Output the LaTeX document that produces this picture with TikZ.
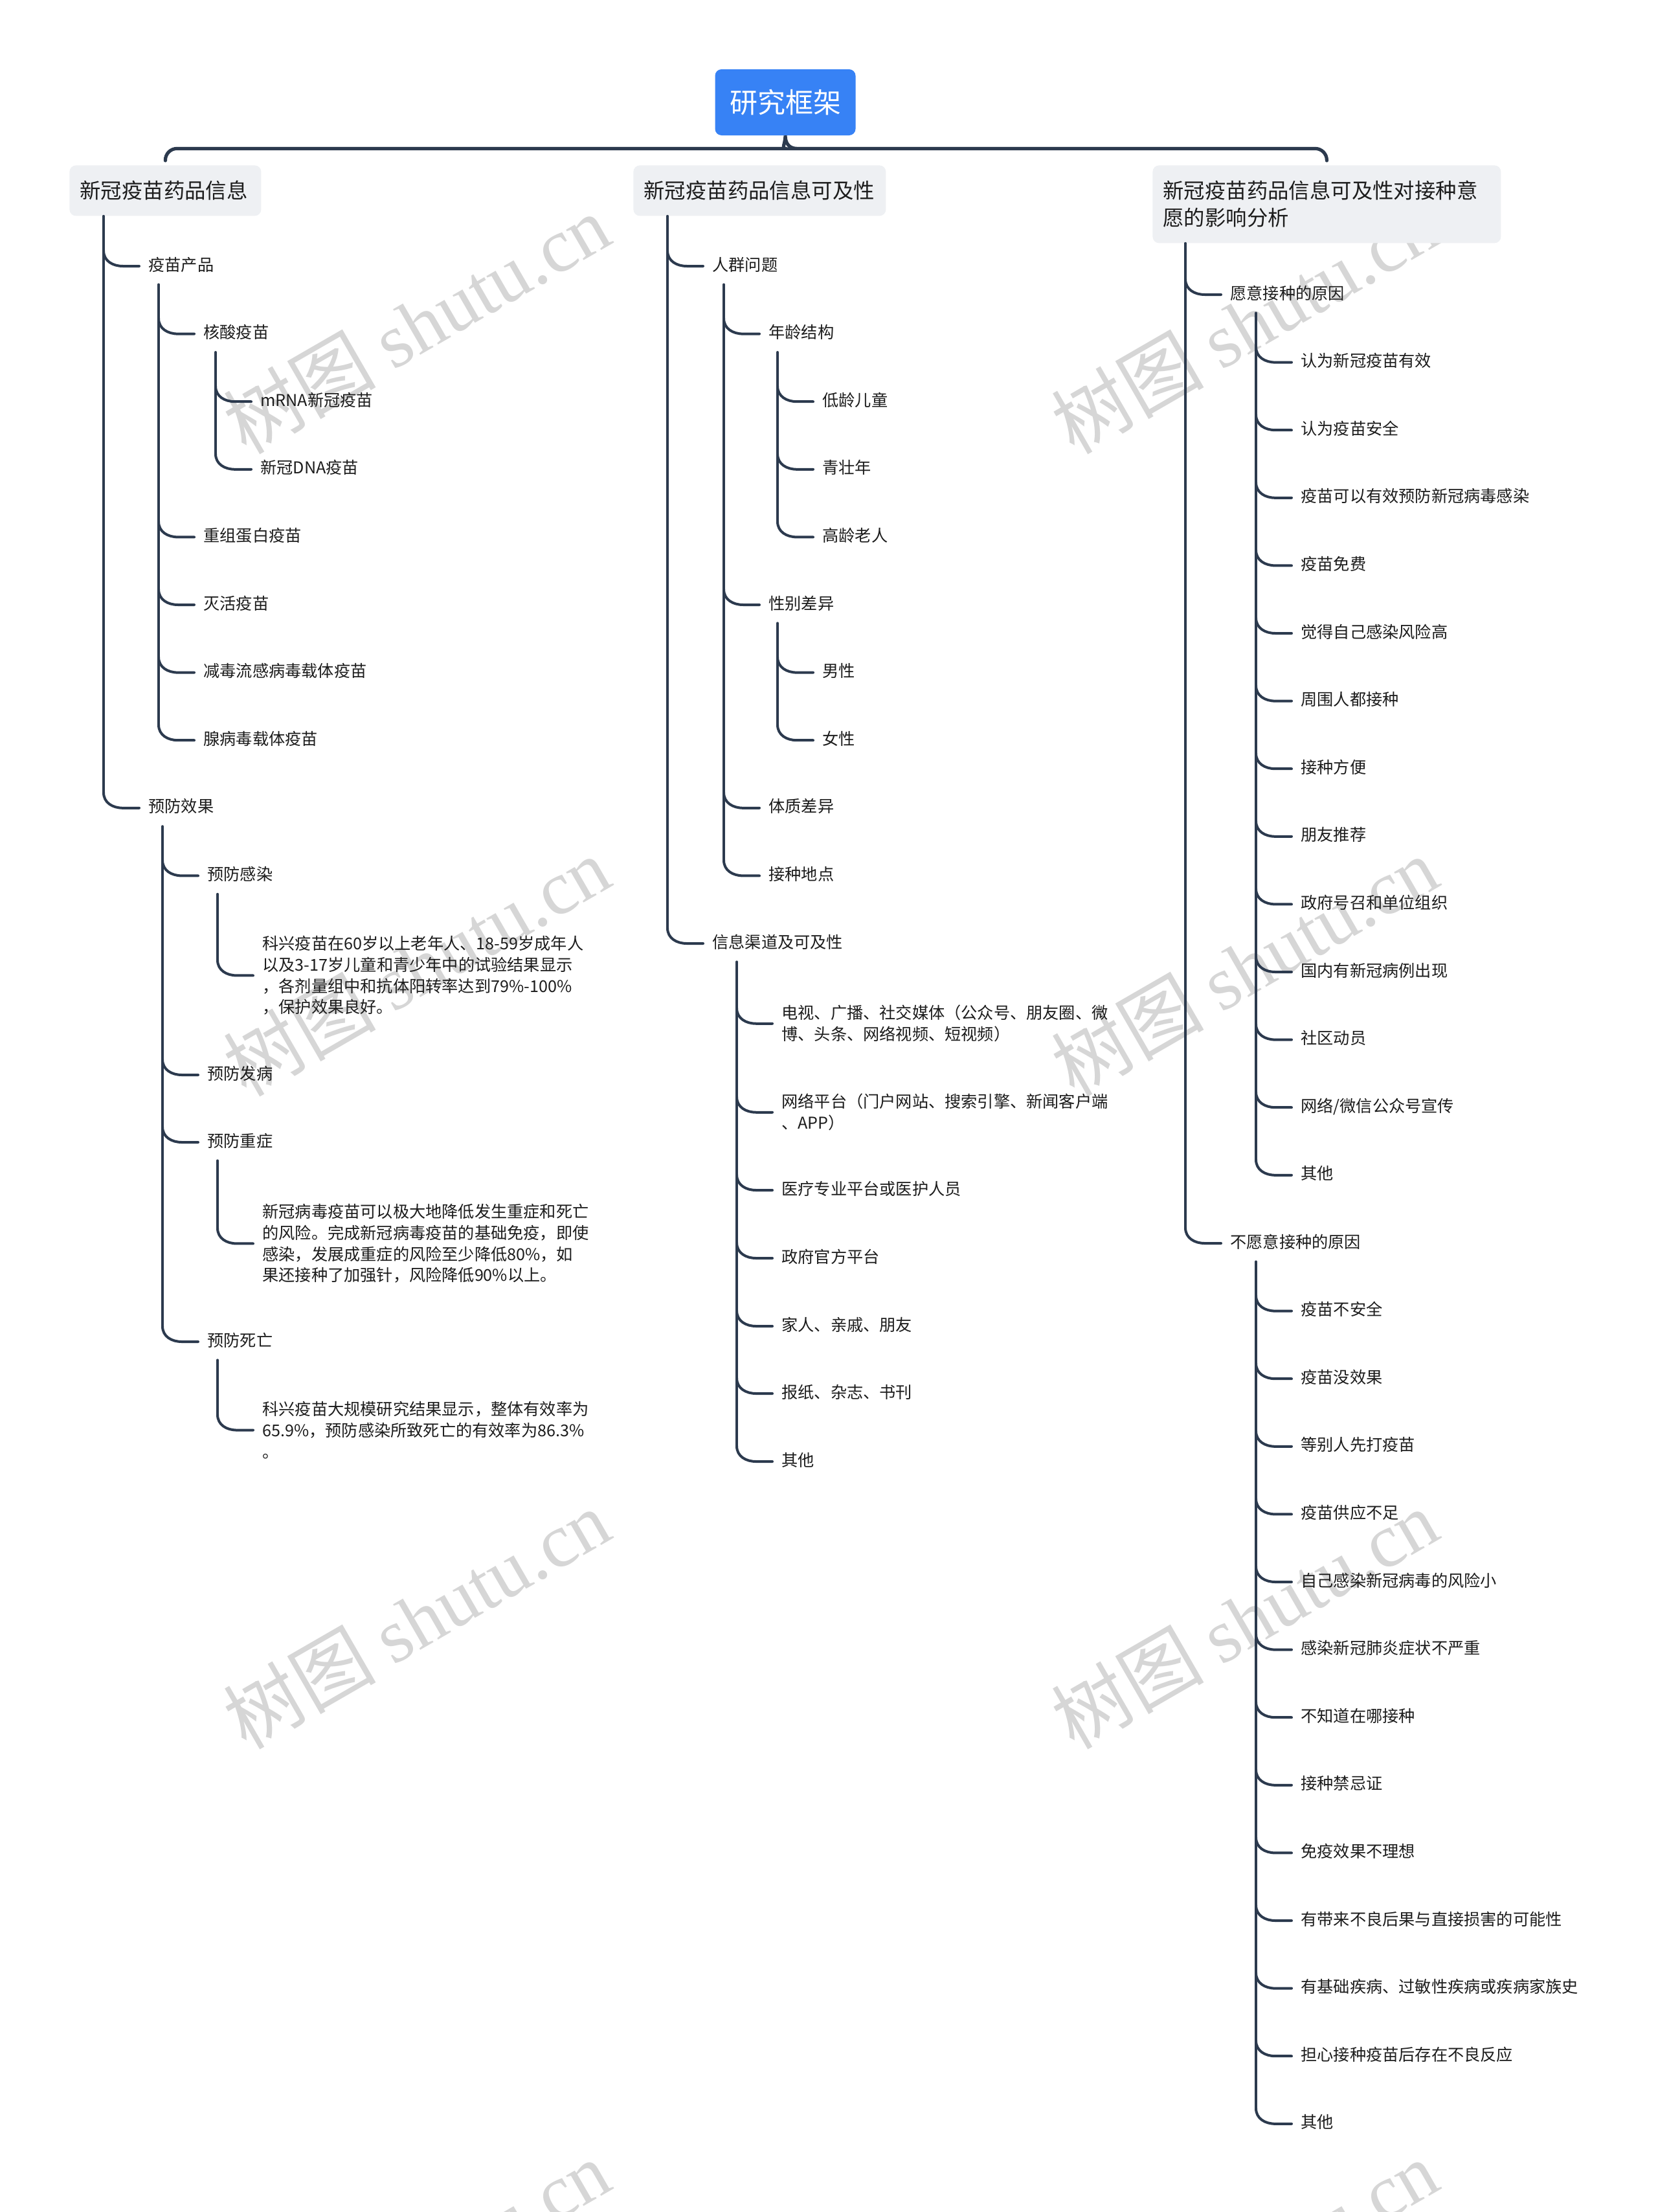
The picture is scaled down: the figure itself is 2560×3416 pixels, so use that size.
\documentclass[tikz,border=0pt]{standalone}
\usepackage{fontspec}
\setmainfont{Noto Sans CJK SC}
\newfontfamily\wmlatin{Liberation Serif}
\usetikzlibrary{calc}
\definecolor{linec}{RGB}{44,58,78}
\definecolor{rootc}{RGB}{55,130,245}
\definecolor{hdrc}{RGB}{238,240,243}
\definecolor{txtc}{RGB}{28,28,28}
\definecolor{wmc}{RGB}{214,214,214}
\newcommand\kid[1]{\draw[tl] ($(#1.west)+(-69,-24)$) .. controls ($(#1.west)+(-69,-8)$) and ($(#1.west)+(-55,0)$) .. ($(#1.west)+(-39,0)$) -- ($(#1.west)+(-14,0)$);}
\newcommand\trunk[2]{\coordinate (tmpp) at ([yshift=-9pt]#1.south); \draw[tl] ($(#2.west)+(-69,-24)$) coordinate (tmpc) -- (tmpc |- tmpp);}
\newcommand\htrunk[2]{\coordinate (tmpp) at (#1.south west); \draw[tl] ($(#2.west)+(-69,-24)$) coordinate (tmpc) -- (tmpc |- tmpp);}
\begin{document}
\begin{tikzpicture}[x=0.5pt,y=-0.5pt,
  tl/.style={draw=linec, line width=2pt, line cap=round},
  br/.style={draw=linec, line width=2.6pt, line cap=round},
  leaf/.style={anchor=west, inner sep=0pt, yshift=-2pt, text=txtc, font=\fontsize{12.6}{16.35}\selectfont, text height=0.85em, text depth=0.15em},
  blk/.style={anchor=north west, inner sep=0pt, yshift=-2pt, text=txtc, font=\fontsize{12.6}{16.35}\selectfont, align=left},
  hdr/.style={anchor=north west, fill=hdrc, rounded corners=5pt, inner xsep=8pt, inner ysep=0pt, text=txtc, font=\fontsize{16.2}{21}\selectfont, align=left, minimum height=39pt},
  rootbox/.style={fill=rootc, rounded corners=5pt, text=white, font=\fontsize{21.5}{26}\selectfont, minimum width=108.5pt, minimum height=51pt, inner sep=0pt},
  wm/.style={text=wmc, font=\fontsize{59}{66}\selectfont, rotate=30, inner sep=0pt}]
\useasboundingbox (0,0) rectangle (2560,3416);
\fill[white] (0,0) rectangle (2560,3416);
% watermarks
\foreach \wx/\wy [count=\i] in {643/500, 1922/500, 643/1492, 1922/1492, 643/2500, 1922/2500, 643/3505, 1922/3505}
  \node[wm] (wm\i) at (\wx,\wy) {树图 {\wmlatin shutu.cn}};

% root and headers
\node[rootbox] (root) at (1213,158) {研究框架};
\node[hdr, text width=132pt] (h1) at (107,255) {新冠疫苗药品信息};
\node[hdr, text width=179pt] (h2) at (978,255) {新冠疫苗药品信息可及性};
\node[hdr, text width=253pt, minimum height=60pt] (h3) at (1780,255) {新冠疫苗药品信息可及性对接种意\\愿的影响分析};

% brace
\coordinate (bl) at ($(h1.north)+(0,-7)$);
\coordinate (brr) at ($(h3.north)+(0,-7)$);
\draw[br] (bl) [rounded corners=9pt] |- ($(root.south)+(-18,20)$) [sharp corners] .. controls ($(root.south)+(-6,20)$) and ($(root.south)+(0,12)$) .. (root.south) .. controls ($(root.south)+(0,12)$) and ($(root.south)+(6,20)$) .. ($(root.south)+(18,20)$) [rounded corners=9pt] -| (brr);

% ---------- column 1 ----------
\node[leaf] (a1) at (229,407) {疫苗产品};
\node[leaf] (a11) at (314,511.6) {核酸疫苗};
\node[leaf] (a111) at (402,616.2) {mRNA新冠疫苗};
\node[leaf] (a112) at (402,720.8) {新冠DNA疫苗};
\node[leaf] (a12) at (314,825.4) {重组蛋白疫苗};
\node[leaf] (a13) at (314,930) {灭活疫苗};
\node[leaf] (a14) at (314,1034.6) {减毒流感病毒载体疫苗};
\node[leaf] (a15) at (314,1139.2) {腺病毒载体疫苗};
\node[leaf] (a2) at (229,1243.8) {预防效果};
\node[leaf] (a21) at (320,1348.4) {预防感染};
\node[blk] (a211) at (405,1441) {科兴疫苗在60岁以上老年人、18-59岁成年人\\以及3-17岁儿童和青少年中的试验结果显示\\，各剂量组中和抗体阳转率达到79\%-100\%\\，保护效果良好。};
\node[leaf] (a22) at (320,1656) {预防发病};
\node[leaf] (a23) at (320,1760) {预防重症};
\node[blk] (a231) at (405,1855) {新冠病毒疫苗可以极大地降低发生重症和死亡\\的风险。完成新冠病毒疫苗的基础免疫，即使\\感染，发展成重症的风险至少降低80\%，如\\果还接种了加强针，风险降低90\%以上。};
\node[leaf] (a24) at (320,2068) {预防死亡};
\node[blk] (a241) at (405,2160) {科兴疫苗大规模研究结果显示，整体有效率为\\65.9\%，预防感染所致死亡的有效率为86.3\%\\。};

\htrunk{h1}{a2}
\kid{a1} \kid{a2}
\trunk{a1}{a15}
\kid{a11} \kid{a12} \kid{a13} \kid{a14} \kid{a15}
\trunk{a11}{a112}
\kid{a111} \kid{a112}
\trunk{a2}{a24}
\kid{a21} \kid{a22} \kid{a23} \kid{a24}
\trunk{a21}{a211} \kid{a211}
\trunk{a23}{a231} \kid{a231}
\trunk{a24}{a241} \kid{a241}

% ---------- column 2 ----------
\node[leaf] (b1) at (1100,407) {人群问题};
\node[leaf] (b11) at (1187,511.6) {年龄结构};
\node[leaf] (b111) at (1270,616.2) {低龄儿童};
\node[leaf] (b112) at (1270,720.8) {青壮年};
\node[leaf] (b113) at (1270,825.4) {高龄老人};
\node[leaf] (b12) at (1187,930) {性别差异};
\node[leaf] (b121) at (1270,1034.6) {男性};
\node[leaf] (b122) at (1270,1139.2) {女性};
\node[leaf] (b13) at (1187,1243.8) {体质差异};
\node[leaf] (b14) at (1187,1348.4) {接种地点};
\node[leaf] (b2) at (1100,1453) {信息渠道及可及性};
\node[blk] (b21) at (1207,1548) {电视、广播、社交媒体（公众号、朋友圈、微\\博、头条、网络视频、短视频）};
\node[blk] (b22) at (1207,1685) {网络平台（门户网站、搜索引擎、新闻客户端\\、APP）};
\node[leaf] (b23) at (1207,1834) {医疗专业平台或医护人员};
\node[leaf] (b24) at (1207,1939) {政府官方平台};
\node[leaf] (b25) at (1207,2044) {家人、亲戚、朋友};
\node[leaf] (b26) at (1207,2148) {报纸、杂志、书刊};
\node[leaf] (b27) at (1207,2253) {其他};

\htrunk{h2}{b2}
\kid{b1} \kid{b2}
\trunk{b1}{b14}
\kid{b11} \kid{b12} \kid{b13} \kid{b14}
\trunk{b11}{b113}
\kid{b111} \kid{b112} \kid{b113}
\trunk{b12}{b122}
\kid{b121} \kid{b122}
\trunk{b2}{b27}
\kid{b21} \kid{b22} \kid{b23} \kid{b24} \kid{b25} \kid{b26} \kid{b27}

% ---------- column 3 ----------
\node[leaf] (c1) at (1900,451) {愿意接种的原因};
\node[leaf] (c101) at (2009,555.6) {认为新冠疫苗有效};
\node[leaf] (c102) at (2009,660.2) {认为疫苗安全};
\node[leaf] (c103) at (2009,764.8) {疫苗可以有效预防新冠病毒感染};
\node[leaf] (c104) at (2009,869.4) {疫苗免费};
\node[leaf] (c105) at (2009,974) {觉得自己感染风险高};
\node[leaf] (c106) at (2009,1078.6) {周围人都接种};
\node[leaf] (c107) at (2009,1183.2) {接种方便};
\node[leaf] (c108) at (2009,1287.8) {朋友推荐};
\node[leaf] (c109) at (2009,1392.4) {政府号召和单位组织};
\node[leaf] (c110) at (2009,1497) {国内有新冠病例出现};
\node[leaf] (c111) at (2009,1601.6) {社区动员};
\node[leaf] (c112) at (2009,1706.2) {网络/微信公众号宣传};
\node[leaf] (c113) at (2009,1810.8) {其他};
\node[leaf] (c2) at (1900,1916) {不愿意接种的原因};
\node[leaf] (c201) at (2009,2020.6) {疫苗不安全};
\node[leaf] (c202) at (2009,2125.2) {疫苗没效果};
\node[leaf] (c203) at (2009,2229.8) {等别人先打疫苗};
\node[leaf] (c204) at (2009,2334.4) {疫苗供应不足};
\node[leaf] (c205) at (2009,2439) {自己感染新冠病毒的风险小};
\node[leaf] (c206) at (2009,2543.6) {感染新冠肺炎症状不严重};
\node[leaf] (c207) at (2009,2648.2) {不知道在哪接种};
\node[leaf] (c208) at (2009,2752.8) {接种禁忌证};
\node[leaf] (c209) at (2009,2857.4) {免疫效果不理想};
\node[leaf] (c210) at (2009,2962) {有带来不良后果与直接损害的可能性};
\node[leaf] (c211) at (2009,3066.6) {有基础疾病、过敏性疾病或疾病家族史};
\node[leaf] (c212) at (2009,3171.2) {担心接种疫苗后存在不良反应};
\node[leaf] (c213) at (2009,3275.8) {其他};

\htrunk{h3}{c2}
\kid{c1} \kid{c2}
\trunk{c1}{c113}
\foreach \k in {101,102,103,104,105,106,107,108,109,110,111,112,113} {\kid{c\k}}
\trunk{c2}{c213}
\foreach \k in {201,202,203,204,205,206,207,208,209,210,211,212,213} {\kid{c\k}}
\end{tikzpicture}
\end{document}
